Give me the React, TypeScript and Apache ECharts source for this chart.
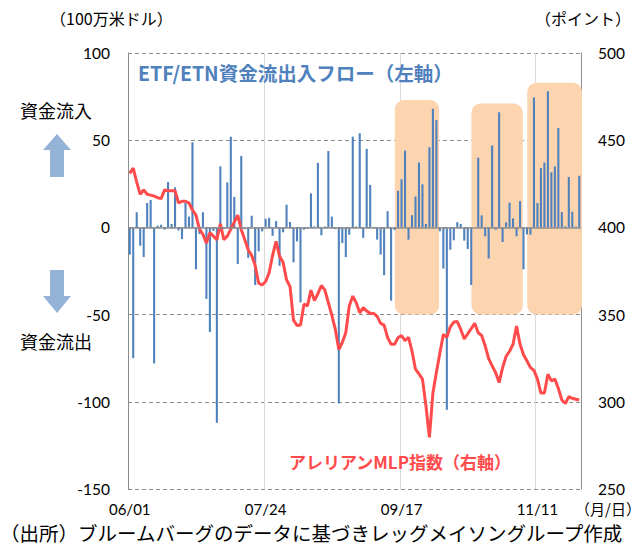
import React, { useEffect, useRef } from "react";
import * as echarts from "echarts";

// ---- data ----
const START_DATE = "2015-06-01";
const CATEGORY_COUNT = 130;

function businessDays(start: string, count: number): string[] {
  const out: string[] = [];
  const d = new Date(start + "T00:00:00Z");
  while (out.length < count) {
    const wd = d.getUTCDay();
    if (wd !== 0 && wd !== 6) {
      const mm = String(d.getUTCMonth() + 1).padStart(2, "0");
      const dd = String(d.getUTCDate()).padStart(2, "0");
      out.push(`${mm}/${dd}`);
    }
    d.setUTCDate(d.getUTCDate() + 1);
  }
  return out;
}
const categories = businessDays(START_DATE, CATEGORY_COUNT);

// ETF/ETN flows (million USD), left axis
const flows = [
  -15.6, -75, 8.7, -10.5, -17, 14, 15.7, -78, 1, 1.5,
  -1.3, 26, 2, 23, -1.8, -6.7, 14, 6.2, 48.8, -24,
  -3.8, 8.7, -41, -60, -2, -112, 35, -1, 25.8, 52,
  17.5, -21, 41, -1, -17.5, 6.7, -33, -13.7, -2.3, 5,
  5.5, -4.8, 3.6, -22, -2.8, 13, 3.1, -20, -8, -43,
  -1.3, -0.8, 19.5, 0.6, 37, -4.5, 0.5, 43.8, 6.2, -1,
  -101, -9, -17, -4.2, 52, 0.5, 54, -6, 45, 24.4,
  0.3, -7, -15.6, -27.4, 9.3, -42, -1.5, 21, 27.6, 44,
  -7, 7, 17.7, 37.2, 24.7, 2, 46, 68, 61.5, -2.2,
  -23.6, -104.6, -12.8, -7.4, 3, 2, -7.6, -12.4, -33, 0,
  40, 6.9, -5.1, -17.8, 47, -1.3, 66, -8.4, 2.9, 14.2,
  5.2, -5.1, 15.1, -24, -4, -4.2, 74.5, 14, 34, 37.2,
  78, 31.6, 35, 57, 8.8, 0.6, 28.9, 9, 0.5, 29.6,
];

// Alerian MLP index (points), right axis
const mlpIndex = [
  431, 434, 426, 419, 421.5, 419, 418.5, 418, 417, 416.5,
  421.5, 421, 421, 421, 414, 415, 415, 414, 410, 407,
  399, 396, 391, 397, 395, 393, 402, 393, 395, 399,
  403, 407, 398.7, 393, 387, 384, 378, 368, 367, 369,
  374, 384, 392, 383.4, 380, 370, 366, 346.7, 343.8, 344,
  356, 355, 364, 358, 362, 366.7, 364, 356.8, 349.5, 341.5,
  330, 334, 339.6, 355, 360.6, 356.8, 351, 354, 352, 350.7,
  350.7, 349, 345, 344, 336.8, 333, 333, 336.8, 338, 335,
  337, 329, 318.7, 316, 313, 297.7, 279.6, 305, 316.8, 328,
  338.7, 337, 343, 345.7, 346, 341.5, 336, 339, 342, 345,
  339.6, 338, 332, 324.8, 320.6, 316.8, 311, 319.6, 326, 329,
  333, 343.4, 333, 327, 323.4, 319.6, 318, 313, 305, 305,
  315.8, 312, 313, 307.6, 301, 299, 302.9, 302, 301.5, 301,
];

const leftTicks = { min: -150, max: 100, interval: 50 };
const rightTicks = { min: 250, max: 500, interval: 50 };

// highlighted periods (category index ranges)
const highlightStart = [77, 99, 115];
const highlightEnd = [88, 112, 129];
const highlightBottom = -50;
const highlightHeadroom = 5;

const TITLE_FLOW = "ETF/ETN資金流出入フロー（左軸）";
const TITLE_MLP = "アレリアンMLP指数（右軸）";
const UNIT_LEFT = "（100万米ドル）";
const UNIT_RIGHT = "（ポイント）";
const UNIT_X = "（月/日）";
const SOURCE = "（出所）ブルームバーグのデータに基づきレッグメイソングループ作成";
const INFLOW = "資金流入";
const OUTFLOW = "資金流出";

const JP = "'Noto Sans CJK JP', 'Noto Sans', sans-serif";
const NUM = "Lato, 'Noto Sans', sans-serif";

export default function App() {
  const ref = useRef<HTMLDivElement>(null);
  useEffect(() => {
    if (!ref.current) return;
    const chart = echarts.init(ref.current, undefined, { renderer: "svg" });
    const option: any = {
      animation: false,
      backgroundColor: "#ffffff",
      grid: { left: 128, right: 60, top: 53, bottom: 58 },
      xAxis: {
        type: "category",
        data: categories,
        boundaryGap: true,
        axisLine: { show: false, onZero: false },
        axisTick: { show: false },
        axisLabel: {
          interval: 38,
          fontSize: 15,
          lineHeight: 15,
          color: "#000",
          fontFamily: NUM,
          margin: 12,
        },
        splitLine: {
          show: true,
          interval: 38,
          lineStyle: { color: "#D9D9D9", width: 1 },
        },
      },
      yAxis: [
        {
          type: "value",
          min: leftTicks.min,
          max: leftTicks.max,
          interval: leftTicks.interval,
          axisLine: { show: true, lineStyle: { color: "#8C8C8C", width: 1 } },
          axisTick: { show: false },
          axisLabel: { fontSize: 15.5, color: "#000", fontFamily: NUM, margin: 18 },
          splitLine: {
            show: true,
            lineStyle: { color: "#8C8C8C", type: [4, 3], width: 1 },
          },
        },
        {
          type: "value",
          min: rightTicks.min,
          max: rightTicks.max,
          interval: rightTicks.interval,
          position: "right",
          axisLine: { show: true, lineStyle: { color: "#8C8C8C", width: 1 } },
          axisTick: { show: false },
          axisLabel: { fontSize: 15.5, color: "#000", fontFamily: NUM, margin: 17 },
          splitLine: { show: false },
        },
      ],
      series: [
        {
          type: "bar",
          data: flows,
          yAxisIndex: 0,
          barWidth: "60%",
          itemStyle: { color: "#4F81BD" },
          z: 3,
          markLine: {
            silent: true,
            symbol: "none",
            label: { show: false },
            lineStyle: { color: "#8C8C8C", type: "solid", width: 1.5 },
            data: [{ yAxis: 0 }],
          },
        },
        {
          type: "line",
          data: mlpIndex,
          yAxisIndex: 1,
          symbol: "none",
          lineStyle: { color: "#FF4B4B", width: 3 },
          itemStyle: { color: "#FF4B4B" },
          z: 4,
        },
      ],
    };
    chart.setOption(option);

    const p0 = chart.convertToPixel({ xAxisIndex: 0, yAxisIndex: 0 }, [0, 0]) as number[];
    const p1 = chart.convertToPixel({ xAxisIndex: 0, yAxisIndex: 0 }, [1, 0]) as number[];
    const band = p1[0] - p0[0];
    const boxes = highlightStart.map((s, k) => {
      const e = highlightEnd[k];
      let mx = -Infinity;
      for (let i = s; i <= e; i++) mx = Math.max(mx, flows[i]);
      const a = chart.convertToPixel({ xAxisIndex: 0, yAxisIndex: 0 }, [s, mx + highlightHeadroom]) as number[];
      const b = chart.convertToPixel({ xAxisIndex: 0, yAxisIndex: 0 }, [e, highlightBottom]) as number[];
      const x0 = a[0] - band / 2 - 1.5;
      const x1 = b[0] + band / 2 + 1;
      return {
        type: "rect",
        z: 1,
        silent: true,
        shape: { x: x0, y: a[1], width: x1 - x0, height: b[1] - a[1], r: 9 },
        style: { fill: "#FCD5B0" },
      };
    });

    const texts: any[] = [
      { type: "text", left: 50, top: 9, style: { text: UNIT_LEFT, fontSize: 16, lineHeight: 18, fill: "#000", fontFamily: JP } },
      { type: "text", right: 10, top: 9, style: { text: UNIT_RIGHT, fontSize: 16, lineHeight: 18, fill: "#000", fontFamily: JP } },
      { type: "text", right: 0, top: 500, style: { text: UNIT_X, fontSize: 15, lineHeight: 16, fill: "#000", fontFamily: JP } },
      { type: "text", left: 0, top: 522, style: { text: SOURCE, fontSize: 19.5, lineHeight: 21, fill: "#000", fontFamily: JP } },
      { type: "text", left: 138, top: 61, z: 10, style: { text: TITLE_FLOW, fontSize: 19.5, lineHeight: 22, fontWeight: "bold", fill: "#4F81BD", fontFamily: JP } },
      { type: "text", left: 289, top: 452, z: 10, style: { text: TITLE_MLP, fontSize: 17, lineHeight: 19, fontWeight: "bold", fill: "#FF4B4B", fontFamily: JP } },
      { type: "text", left: 20, top: 100, style: { text: INFLOW, fontSize: 18, lineHeight: 20, fill: "#000", fontFamily: JP } },
      { type: "text", left: 20, top: 331, style: { text: OUTFLOW, fontSize: 18, lineHeight: 20, fill: "#000", fontFamily: JP } },
      {
        type: "polygon",
        silent: true,
        shape: { points: [[43, 150], [57, 134], [71, 150], [64, 150], [64, 177], [50, 177], [50, 150]] },
        style: { fill: "#95B3D7" },
      },
      {
        type: "polygon",
        silent: true,
        shape: { points: [[50, 270], [64, 270], [64, 296], [71, 296], [57, 313], [43, 296], [50, 296]] },
        style: { fill: "#95B3D7" },
      },
    ];
    chart.setOption({ graphic: [...boxes, ...texts] });

    return () => chart.dispose();
  }, []);
  return (
    <div
      ref={ref}
      style={{ position: "fixed", left: 0, top: 0, width: 641, height: 547, background: "#fff" }}
    />
  );
}
